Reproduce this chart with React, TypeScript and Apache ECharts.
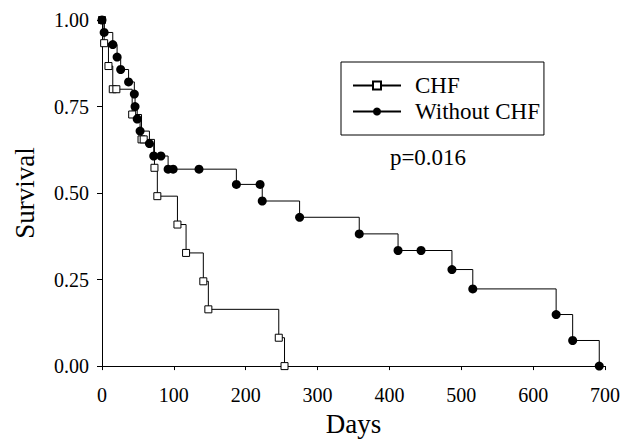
import React, { useEffect, useRef } from "react";
import * as echarts from "echarts";

// CHF group (open squares)
const chfDays = [0, 3, 9, 15, 20, 42, 55, 58, 73, 77, 105, 117, 141, 148, 246, 254];
const chfSurvival = [1, 0.933, 0.867, 0.8, 0.8, 0.727, 0.655, 0.655, 0.573, 0.491, 0.409, 0.327, 0.245, 0.164, 0.082, 0];

// Without CHF group (filled circles)
const woDays = [0, 3, 15, 21, 26, 37, 45, 46, 49, 53, 66, 72, 82, 92, 99, 135, 187, 220, 223, 275, 358, 412, 444, 487, 516, 632, 655, 692];
const woSurvival = [1, 0.964, 0.929, 0.893, 0.857, 0.821, 0.786, 0.75, 0.714, 0.679, 0.643, 0.607, 0.607, 0.569, 0.569, 0.569, 0.525, 0.525, 0.477, 0.43, 0.382, 0.334, 0.334, 0.279, 0.223, 0.149, 0.074, 0];

const seriesNames = ["CHF", "Without CHF"];
const pValueText = "p=0.016";
const xAxisTitle = "Days";
const yAxisTitle = "Survival";

const FONT = "'Liberation Serif', 'Times New Roman', serif";

export default function App() {
  const ref = useRef<HTMLDivElement>(null);
  useEffect(() => {
    if (!ref.current) return;
    const chart = echarts.init(ref.current, null, { renderer: "svg" });
    const chf = chfDays.map((d, i) => [d, chfSurvival[i]]);
    const wo = woDays.map((d, i) => [d, woSurvival[i]]);
    chart.setOption({
      animation: false,
      backgroundColor: "#fff",
      grid: { left: 102, right: 24, top: 20, bottom: 71.5, containLabel: false },
      xAxis: {
        type: "value",
        min: 0,
        max: 700,
        interval: 100,
        name: xAxisTitle,
        nameLocation: "middle",
        nameGap: 38,
        nameTextStyle: { fontFamily: FONT, fontSize: 27, color: "#000" },
        axisLine: { show: true, onZero: false, lineStyle: { color: "#000", width: 1 } },
        axisTick: { show: true, inside: false, length: 4, lineStyle: { color: "#000" } },
        axisLabel: { margin: 19, fontFamily: FONT, fontSize: 20, color: "#000" },
        splitLine: { show: false },
      },
      yAxis: {
        type: "value",
        min: 0,
        max: 1,
        interval: 0.25,
        name: yAxisTitle,
        nameLocation: "middle",
        nameGap: 64,
        nameTextStyle: { fontFamily: FONT, fontSize: 27, color: "#000" },
        axisLine: { show: true, onZero: false, lineStyle: { color: "#000", width: 1 } },
        axisTick: { show: true, inside: false, length: 5, lineStyle: { color: "#000" } },
        axisLabel: {
          margin: 13,
          fontFamily: FONT,
          fontSize: 20,
          color: "#000",
          formatter: (v: number) => v.toFixed(2),
        },
        splitLine: { show: false },
      },
      legend: {
        orient: "vertical",
        left: 341,
        top: 62,
        itemWidth: 48,
        itemHeight: 10,
        itemGap: 3,
        padding: [12, 4, 12, 11],
        borderColor: "#000",
        borderWidth: 1,
        textStyle: { fontFamily: FONT, fontSize: 23, color: "#000", padding: [0, 0, 0, 9] },
        data: seriesNames,
      },
      graphic: [
        {
          type: "text",
          x: 428,
          y: 157,
          style: {
            text: pValueText,
            fontFamily: FONT,
            fontSize: 23,
            fill: "#000",
            textAlign: "center",
            textVerticalAlign: "middle",
          },
        },
      ],
      series: [
        {
          name: seriesNames[0],
          type: "line",
          step: "end",
          data: chf,
          symbol: "rect",
          symbolSize: 7,
          showSymbol: true,
          showAllSymbol: true,
          clip: false,
          lineStyle: { color: "#000", width: 1 },
          itemStyle: { color: "#fff", borderColor: "#000", borderWidth: 1 },
          z: 2,
        },
        {
          name: seriesNames[1],
          type: "line",
          step: "end",
          data: wo,
          symbol: "circle",
          symbolSize: 9,
          showSymbol: true,
          showAllSymbol: true,
          clip: false,
          lineStyle: { color: "#000", width: 1 },
          itemStyle: { color: "#000", borderColor: "#000", borderWidth: 0 },
          z: 3,
        },
      ],
    });
    return () => chart.dispose();
  }, []);
  return <div ref={ref} style={{ width: 629, height: 442, position: "absolute", left: 0, top: 0 }} />;
}
